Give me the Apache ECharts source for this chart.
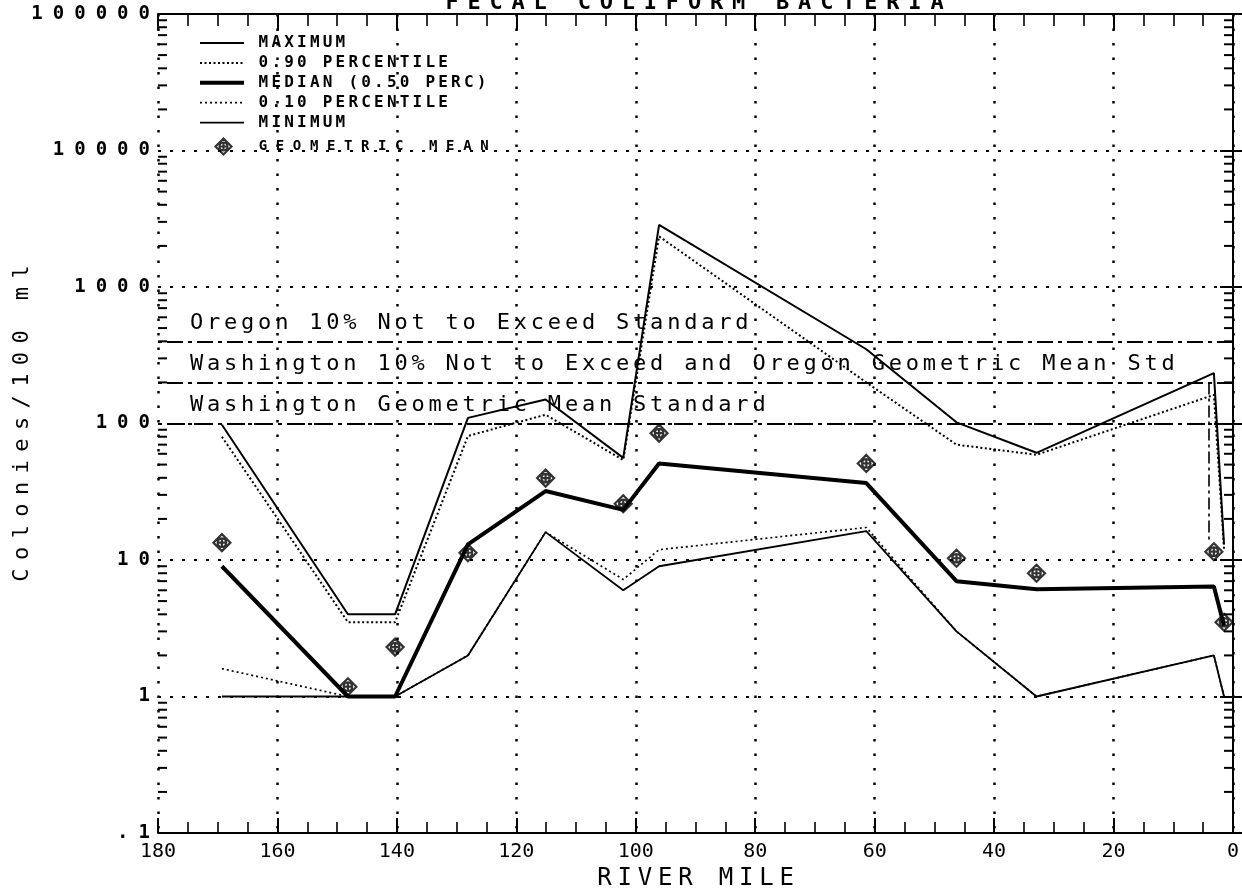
<!DOCTYPE html>
<html>
<head>
<meta charset="utf-8">
<title>Fecal Coliform Bacteria by River Mile</title>
<script src="https://cdn.jsdelivr.net/npm/echarts@6/dist/echarts.min.js"></script>
<style>
  html, body { margin: 0; padding: 0; background: #fff; }
  #chart { width: 1242px; height: 895px; }
</style>
</head>
<body>
<div id="chart"></div>
<script>
// Station locations (river mile) and sample statistics, colonies per 100 ml
const riverMile = [169.3, 148.2, 140.3, 128.1, 115.1, 102.1, 96.1, 61.4, 46.3, 32.9, 3.2, 1.5];
const maximum   = [98, 4.0, 4.0, 110, 150, 56, 2850, 350, 102, 61, 234, 13];
const pct90     = [80, 3.5, 3.5, 81, 116, 54, 2350, 200, 70, 59, 162, 12];
const median    = [9.0, 1.0, 1.0, 13, 32, 23.3, 51, 36.6, 7.0, 6.1, 6.4, 3.3];
const pct10     = [1.6, 1.0, 1.0, 2.0, 16, 7.2, 11.9, 17.3, 3.0, 1.0, 2.0, 1.0];
const minimum   = [1.0, 1.0, 1.0, 2.0, 16, 6.0, 9.0, 16.3, 3.0, 1.0, 2.0, 1.0];
const geoMean   = [13.4, 1.18, 2.3, 11.3, 39.8, 25.8, 85, 51, 10.3, 8.0, 11.5, 3.5];

// Water quality standards
const standardValues = [400, 200, 100];
const standardLabels = [
  'Oregon 10% Not to Exceed Standard',
  'Washington 10% Not to Exceed and Oregon Geometric Mean Std',
  'Washington Geometric Mean Standard'
];
// short dash-dot marker near the mouth
const markerMile = 4.1;
const markerRange = [200, 14];

const seriesNames = ['MAXIMUM', '0.90 PERCENTILE', 'MEDIAN (0.50 PERC)', '0.10 PERCENTILE', 'MINIMUM'];
const geoName = 'GEOMETRIC MEAN';
const chartTitle = 'FECAL COLIFORM BACTERIA';
const yAxisTitle = 'Colonies/100 ml';
const xAxisTitle = 'RIVER MILE';
const decadeExponents = [-1, 0, 1, 2, 3, 4];

const FONT = 'DejaVu Sans Mono';

// stroke style of each statistic line: [width, dash]
const lineLooks = [
  [2, 'solid'],
  [2, [2, 2.5]],
  [4, 'solid'],
  [1.7, [2, 3]],
  [1.8, 'solid']
];

// plotter-style wide lettering: each glyph gets its own padded rich box
function spaced(str, key) {
  return str.split('').map(c => '{' + key + '|' + c + '}').join('');
}
function pairs(ys) { return riverMile.map((m, i) => [m, ys[i]]); }

// minor tick positions on the log axis (2..9 within every decade)
const logMinor = [];
decadeExponents.forEach(e => {
  for (let k = 2; k <= 9; k++) logMinor.push([90, k * Math.pow(10, e)]);
});

const geoSymbol = 'path://M0,-10L10,0L0,10L-10,0Z M0,-5A5,5,0,1,1,0,5A5,5,0,1,1,0,-5Z M-5,0L5,0 M0,-5L0,5';

const chart = echarts.init(document.getElementById('chart'), null, { renderer: 'canvas' });

const statSeries = [maximum, pct90, median, pct10, minimum].map((vals, i) => ({
  name: seriesNames[i], type: 'line', data: pairs(vals), symbol: 'none', silent: true,
  color: '#000',
  lineStyle: { color: '#000', width: lineLooks[i][0], type: lineLooks[i][1] },
  z: 4
}));

const option = {
  animation: false,
  backgroundColor: '#fff',
  title: {
    text: spaced(chartTitle, 't'),
    left: 436, top: -13,
    textStyle: { rich: { t: { fontFamily: FONT, fontSize: 22, color: '#000', padding: [0, 4.4] } } }
  },
  grid: { left: 158, right: 9, top: 14, bottom: 62, containLabel: false, outerBoundsMode: 'none' },
  legend: [
    {
      data: seriesNames.map((n, i) => ({
        name: n,
        lineStyle: { color: '#000', width: lineLooks[i][0], type: lineLooks[i][1] }
      })),
      orient: 'vertical', left: 198, top: 35, padding: 0,
      itemWidth: 44, itemHeight: 14, itemGap: 3.9,
      selectedMode: false,
      itemStyle: { opacity: 0 },
      formatter: n => spaced(n, 'l'),
      textStyle: {
        padding: [0, 0, 0, 8],
        rich: { l: { fontFamily: FONT, fontSize: 16, fontWeight: 'bold', color: '#000', padding: [0, 1.6], lineHeight: 14 } }
      }
    },
    {
      data: [{ name: geoName, icon: geoSymbol, itemStyle: { color: 'none', borderColor: '#000', borderWidth: 2.2 } }],
      orient: 'vertical', left: 213, top: 136, padding: 0,
      itemWidth: 16, itemHeight: 16,
      selectedMode: false,
      formatter: n => spaced(n, 'g'),
      textStyle: {
        padding: [0, 0, 0, 18],
        rich: { g: { fontFamily: FONT, fontSize: 14, fontWeight: 'bold', color: '#000', padding: [0, 4.3], lineHeight: 14 } }
      }
    }
  ],
  xAxis: [
    {
      type: 'value', min: 0, max: 180, interval: 20, inverse: true, position: 'bottom',
      axisLine: { lineStyle: { color: '#000', width: 2 } },
      axisTick: { inside: true, length: 15, lineStyle: { color: '#000', width: 2 } },
      minorTick: { show: true, splitNumber: 4, length: 11, lineStyle: { color: '#000', width: 1.6 } },
      splitLine: { show: true, lineStyle: { color: '#000', width: 2.5, type: [2.5, 12] } },
      axisLabel: { fontFamily: FONT, fontSize: 20, color: '#000', margin: 9 },
      name: spaced(xAxisTitle, 'r'), nameLocation: 'middle', nameGap: 34,
      nameTextStyle: { rich: { r: { fontFamily: FONT, fontSize: 24, color: '#000', padding: [0, 2.9] } } }
    },
    {
      type: 'value', min: 0, max: 180, interval: 20, inverse: true, position: 'top',
      axisLine: { lineStyle: { color: '#000', width: 2 } },
      axisTick: { inside: true, length: 16, lineStyle: { color: '#000', width: 2 } },
      minorTick: { show: true, splitNumber: 4, length: 12, lineStyle: { color: '#000', width: 1.6 } },
      splitLine: { show: false },
      axisLabel: { show: false }
    }
  ],
  yAxis: [
    {
      type: 'log', logBase: 10, min: 0.1, max: 100000, interval: 1, position: 'left',
      axisLine: { lineStyle: { color: '#000', width: 2 } },
      axisTick: { inside: true, length: 13, lineStyle: { color: '#000', width: 2 } },
      splitLine: { show: true, lineStyle: { color: '#000', width: 2, type: [3, 9] } },
      axisLabel: {
        margin: 3,
        formatter: v => spaced(v < 1 ? '.1' : String(Math.round(v)), 'y'),
        rich: { y: { fontFamily: FONT, fontSize: 19, fontWeight: 'bold', color: '#000', padding: [0, 5] } }
      },
      name: spaced(yAxisTitle, 'n'), nameLocation: 'middle', nameRotate: 90, nameGap: 125,
      nameMoveOverlap: false,
      nameTextStyle: { rich: { n: { fontFamily: FONT, fontSize: 22, color: '#000', padding: [0, 4.2] } } }
    },
    {
      type: 'log', logBase: 10, min: 0.1, max: 100000, interval: 1, position: 'right',
      axisLine: { lineStyle: { color: '#000', width: 2 } },
      axisTick: { inside: true, length: 13, lineStyle: { color: '#000', width: 2 } },
      splitLine: { show: false },
      axisLabel: { show: false }
    }
  ],
  series: statSeries.concat([
    {
      name: geoName, type: 'scatter', data: pairs(geoMean),
      symbol: geoSymbol, symbolSize: 17, silent: true, z: 5,
      itemStyle: { color: 'none', borderColor: '#000', borderWidth: 2.2 }
    },
    {
      name: 'standards', type: 'line', data: [], silent: true,
      markLine: {
        silent: true, symbol: ['none', 'none'], animation: false,
        lineStyle: { color: '#000', width: 1.8, type: [16, 5, 4, 5] },
        label: {
          show: true, position: 'insideEndTop', distance: [30, 7],
          rich: { s: { fontFamily: FONT, fontSize: 22, color: '#000', padding: [0, 1.9] } }
        },
        data: standardValues.map((v, i) => ({
          yAxis: v,
          label: { formatter: spaced(standardLabels[i], 's') }
        })).concat([[
          { coord: [markerMile, markerRange[0]], label: { show: false }, lineStyle: { type: [12, 4, 3, 4], width: 1.6 } },
          { coord: [markerMile, markerRange[1]] }
        ]])
      }
    },
    {
      name: 'log minor ticks', type: 'custom', silent: true, data: logMinor,
      encode: { x: 0, y: 1 }, z: 6,
      renderItem: (params, api) => {
        const v = api.value(1);
        const pl = api.coord([180, v]);
        const pr = api.coord([0, v]);
        return {
          type: 'group',
          children: [
            { type: 'line', shape: { x1: pl[0], y1: pl[1], x2: pl[0] + 9, y2: pl[1] }, style: { stroke: '#000', lineWidth: 2 } },
            { type: 'line', shape: { x1: pr[0] - 9, y1: pr[1], x2: pr[0], y2: pr[1] }, style: { stroke: '#000', lineWidth: 2 } }
          ]
        };
      }
    }
  ])
};

chart.setOption(option);
</script>
</body>
</html>
